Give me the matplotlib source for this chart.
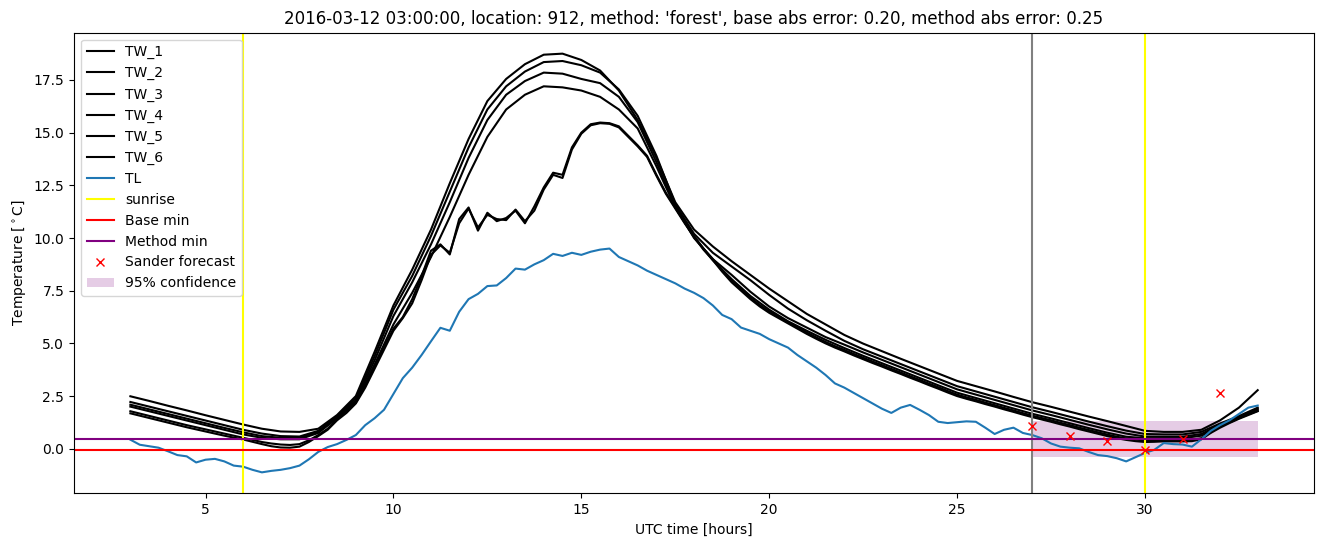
import numpy as np
import matplotlib
matplotlib.use('Agg')
import matplotlib.pyplot as plt

# half-hour grid for the smooth water temperature series, quarter-hour for the others
hours = np.arange(3, 33.01, 0.5)
hours_fine = np.arange(3, 33.01, 0.25)

tw_1 = [2.49, 2.27, 2.04, 1.82, 1.59, 1.37, 1.15, 0.95, 0.82, 0.80, 0.95, 1.6, 2.5, 4.6, 6.8, 8.5,
        10.4, 12.6, 14.7, 16.5, 17.55, 18.25, 18.7, 18.75, 18.45, 17.95, 17.0, 15.6, 13.8, 11.7,
        10.4, 9.6, 8.9, 8.25, 7.6, 7.0, 6.4, 5.9, 5.4, 4.99, 4.63, 4.27, 3.92, 3.57, 3.22, 2.97,
        2.72, 2.46, 2.21, 1.99, 1.76, 1.53, 1.31, 1.08, 0.85, 0.8, 0.8, 0.9, 1.35, 1.95, 2.78]
tw_2 = [2.22, 2.00, 1.78, 1.56, 1.34, 1.12, 0.90, 0.72, 0.60, 0.58, 0.85, 1.55, 2.4, 4.4, 6.6, 8.2,
        10.1, 12.2, 14.3, 16.1, 17.2, 17.9, 18.35, 18.4, 18.2, 17.85, 17.05, 15.8, 13.9, 11.6,
        10.2, 9.3, 8.65, 8.0, 7.3, 6.65, 6.1, 5.6, 5.12, 4.72, 4.37, 4.02, 3.67, 3.32, 2.97, 2.72,
        2.47, 2.22, 1.97, 1.75, 1.52, 1.29, 1.07, 0.86, 0.7, 0.68, 0.68, 0.8, 1.2, 1.55, 1.95]
tw_3 = [2.09, 1.87, 1.65, 1.43, 1.21, 0.99, 0.78, 0.60, 0.52, 0.52, 0.8, 1.5, 2.3, 4.2, 6.3, 7.9,
        9.7, 11.7, 13.8, 15.6, 16.8, 17.45, 17.85, 17.8, 17.55, 17.35, 16.7, 15.5, 13.6, 11.5,
        10.0, 9.0, 8.25, 7.45, 6.75, 6.2, 5.75, 5.3, 4.94, 4.57, 4.22, 3.87, 3.52, 3.17, 2.82, 2.57,
        2.32, 2.07, 1.82, 1.6, 1.37, 1.14, 0.92, 0.72, 0.58, 0.57, 0.57, 0.7, 1.15, 1.5, 1.9]
tw_4 = [2.00, 1.78, 1.56, 1.34, 1.12, 0.90, 0.68, 0.52, 0.45, 0.45, 0.75, 1.45, 2.2, 4.0, 5.9, 7.4,
        9.1, 11.0, 13.0, 14.8, 16.1, 16.8, 17.2, 17.15, 17.0, 16.7, 16.1, 15.2, 13.4, 11.45,
        10.05, 8.95, 8.05, 7.25, 6.6, 6.05, 5.6, 5.17, 4.78, 4.41, 4.06, 3.71, 3.36, 3.01, 2.66, 2.41,
        2.16, 1.91, 1.66, 1.44, 1.21, 0.98, 0.76, 0.57, 0.5, 0.5, 0.5, 0.62, 1.1, 1.47, 1.85]
tw_5 = [1.78, 1.67, 1.56, 1.45, 1.34, 1.23, 1.12, 1.02, 0.92, 0.82, 0.72, 0.62, 0.52, 0.42, 0.32, 0.25,
        0.20, 0.18, 0.22, 0.40, 0.65, 0.95, 1.40, 1.80, 2.20, 3.00, 3.90, 4.80, 5.70, 6.25, 7.10, 8.20,
        9.40, 9.70, 9.22, 10.90, 11.45, 10.35, 11.20, 10.80, 10.95, 11.30, 10.70, 11.50, 12.40, 13.10,
        13.00, 14.30, 15.00, 15.40, 15.48, 15.45, 15.30, 14.85, 14.40, 13.90, 13.00, 12.15, 11.45, 10.75,
        10.10, 9.50, 9.00, 8.45, 7.95, 7.57, 7.17, 6.82, 6.52, 6.27, 6.02, 5.77, 5.52, 5.29, 5.07, 4.87,
        4.69, 4.50, 4.32, 4.14, 3.97, 3.79, 3.62, 3.44, 3.27, 3.09, 2.92, 2.74, 2.57, 2.44, 2.32, 2.19,
        2.07, 1.94, 1.82, 1.69, 1.57, 1.46, 1.35, 1.23, 1.12, 1.00, 0.89, 0.78, 0.67, 0.57, 0.49, 0.43,
        0.40, 0.41, 0.42, 0.42, 0.42, 0.43, 0.50, 0.78, 1.05, 1.25, 1.45, 1.63, 1.80]
tw_6 = [1.68, 1.57, 1.46, 1.35, 1.24, 1.13, 1.02, 0.92, 0.82, 0.72, 0.62, 0.53, 0.44, 0.33, 0.22, 0.12,
        0.06, 0.05, 0.10, 0.32, 0.60, 0.90, 1.35, 1.70, 2.15, 2.90, 3.80, 4.70, 5.60, 6.20, 6.90, 8.00,
        9.20, 9.65, 9.30, 10.70, 11.40, 10.50, 11.10, 10.90, 10.85, 11.35, 10.80, 11.30, 12.30, 13.00,
        12.85, 14.20, 14.95, 15.35, 15.45, 15.42, 15.25, 14.80, 14.35, 13.85, 12.95, 12.10, 11.40, 10.70,
        10.05, 9.45, 8.95, 8.40, 7.90, 7.50, 7.10, 6.75, 6.45, 6.20, 5.95, 5.70, 5.45, 5.22, 5.00, 4.80,
        4.62, 4.43, 4.25, 4.07, 3.90, 3.72, 3.55, 3.37, 3.20, 3.02, 2.85, 2.67, 2.50, 2.37, 2.25, 2.12,
        2.00, 1.87, 1.75, 1.62, 1.50, 1.39, 1.28, 1.16, 1.05, 0.93, 0.82, 0.71, 0.60, 0.50, 0.42, 0.36,
        0.32, 0.33, 0.35, 0.35, 0.35, 0.36, 0.45, 0.75, 1.00, 1.22, 1.42, 1.60, 1.78]
tl = [0.43, 0.19, 0.12, 0.05, -0.12, -0.30, -0.36, -0.65, -0.52, -0.48, -0.60, -0.80, -0.85, -1.00, -1.12, -1.05,
      -1.00, -0.92, -0.80, -0.50, -0.15, 0.08, 0.22, 0.42, 0.65, 1.12, 1.45, 1.85, 2.60, 3.35, 3.85, 4.45,
      5.10, 5.74, 5.60, 6.50, 7.10, 7.35, 7.72, 7.75, 8.10, 8.55, 8.50, 8.75, 8.95, 9.25, 9.15, 9.30,
      9.20, 9.35, 9.45, 9.50, 9.10, 8.90, 8.70, 8.45, 8.25, 8.05, 7.85, 7.60, 7.40, 7.15, 6.80, 6.35,
      6.15, 5.75, 5.60, 5.45, 5.20, 5.00, 4.80, 4.45, 4.15, 3.85, 3.50, 3.10, 2.90, 2.65, 2.40, 2.15,
      1.90, 1.70, 1.95, 2.08, 1.85, 1.60, 1.28, 1.22, 1.26, 1.30, 1.28, 1.00, 0.70, 0.90, 1.00, 0.75,
      0.65, 0.50, 0.25, 0.10, 0.05, 0.02, -0.15, -0.30, -0.35, -0.45, -0.60, -0.40, -0.20, -0.05, 0.27, 0.22,
      0.20, 0.10, 0.45, 0.85, 1.12, 1.35, 1.65, 1.95, 2.05]

sunrise_hours = [6, 30]
forecast_start = 27
base_min = -0.04
method_min = 0.44
forecast_hours = [27, 28, 29, 30, 31, 32]
sander_forecast = [1.06, 0.62, 0.35, -0.05, 0.47, 2.65]
conf_hours = [27, 33]
conf_low = [-0.37, -0.37]
conf_high = [1.33, 1.33]

fig = plt.figure(figsize=(13.24, 5.47), dpi=100)
ax = fig.add_axes([0.0559, 0.0982, 0.9366, 0.842])

for name, vals in [('TW_1', tw_1), ('TW_2', tw_2), ('TW_3', tw_3), ('TW_4', tw_4)]:
    ax.plot(hours, vals, color='black', label=name)
ax.plot(hours_fine, tw_5, color='black', label='TW_5')
ax.plot(hours_fine, tw_6, color='black', label='TW_6')
ax.plot(hours_fine, tl, color='tab:blue', label='TL')

ax.axvline(sunrise_hours[0], color='yellow', label='sunrise')
ax.axvline(sunrise_hours[1], color='yellow')
ax.axvline(forecast_start, color='grey')
ax.axhline(base_min, color='red', label='Base min')
ax.axhline(method_min, color='purple', label='Method min')
ax.plot(forecast_hours, sander_forecast, 'rx', label='Sander forecast')
ax.fill_between(conf_hours, conf_low, conf_high, color='purple', alpha=0.2, linewidth=0,
                label='95% confidence')

ax.set_title("2016-03-12 03:00:00, location: 912, method: 'forest', base abs error: 0.20, method abs error: 0.25")
ax.set_xlabel('UTC time [hours]')
ax.set_ylabel(r'Temperature [$^\circ$C]')
ax.legend(loc='upper left')

plt.savefig('out.png', dpi=100)
